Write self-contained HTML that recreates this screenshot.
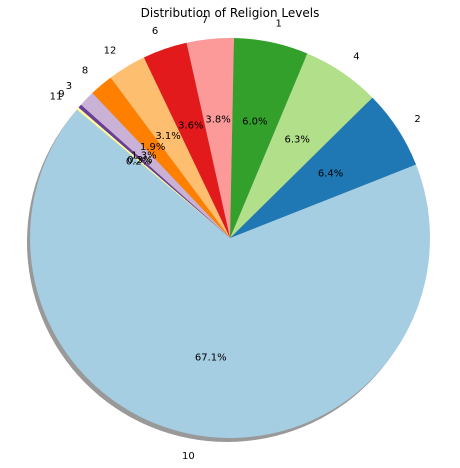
<!DOCTYPE html>
<html><head><meta charset="utf-8"><style>
body{margin:0;background:#fff;}
svg{display:block;font-family:"DejaVu Sans","Liberation Sans",sans-serif;}
</style></head><body>
<svg id="chart" width="460" height="468" viewBox="0 0 460 468">
<text x="230" y="17" font-size="12" text-anchor="middle">Distribution of Religion Levels</text>
<g id="shadow"></g>
<g id="slices"></g>
<g id="labels"></g>
</svg>
<script>
const categories = ["10","2","4","1","7","6","12","8","3","9","11"];
const values = [67.1,6.4,6.3,6.0,3.8,3.6,3.1,1.9,1.3,0.3,0.2];
const colors = ["#a6cee3","#1f78b4","#b2df8a","#33a02c","#fb9a99","#e31a1c","#fdbf6f","#ff7f00","#cab2d6","#6a3d9a","#ffff99"];
const cx=230, cy=238, r=200, startAngle=140;
const NS="http://www.w3.org/2000/svg";
const total=values.reduce((a,b)=>a+b,0);
function pt(deg,rad){const a=deg*Math.PI/180;return [cx+rad*Math.cos(a), cy-rad*Math.sin(a)];}
const sh=document.createElementNS(NS,'circle');
sh.setAttribute('cx',cx-3);sh.setAttribute('cy',cy+4);sh.setAttribute('r',r);sh.setAttribute('fill','#999');


document.getElementById('shadow').appendChild(sh);
let ang=startAngle;
values.forEach((v,i)=>{
  const sweep=v/total*360, a0=ang, a1=ang+sweep;
  const p0=pt(a0,r), p1=pt(a1,r);
  const path=document.createElementNS(NS,'path');
  path.setAttribute('d',`M${cx},${cy} L${p0[0]},${p0[1]} A${r},${r} 0 ${sweep>180?1:0} 0 ${p1[0]},${p1[1]} Z`);
  path.setAttribute('fill',colors[i]);
  
  
  document.getElementById('slices').appendChild(path);
  const mid=(a0+a1)/2;
  const lp=pt(mid,r*1.1);
  const t=document.createElementNS(NS,'text');
  const c=Math.cos(mid*Math.PI/180);
  t.setAttribute('x',lp[0]);t.setAttribute('y',lp[1]+4);t.setAttribute('font-size','10');
  t.setAttribute('text-anchor',c>0?'start':'end');
  t.textContent=categories[i];
  
  
  document.getElementById('labels').appendChild(t);
  const pp=pt(mid,r*0.6);
  const u=document.createElementNS(NS,'text');
  u.setAttribute('x',pp[0]);u.setAttribute('y',pp[1]+4);u.setAttribute('font-size','10');
  u.setAttribute('text-anchor','middle');
  u.textContent=v.toFixed(1)+'%';
  
  
  document.getElementById('labels').appendChild(u);
  ang=a1;
});
</script>
</body></html>
